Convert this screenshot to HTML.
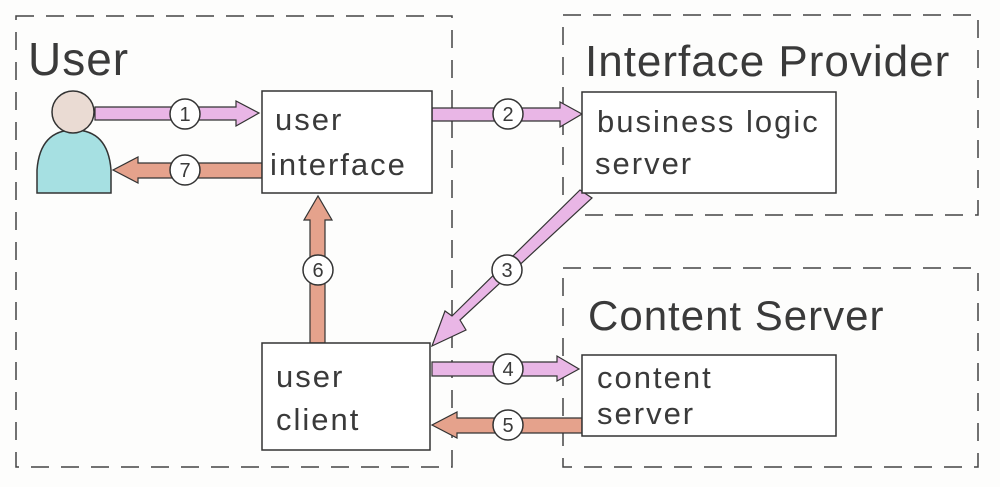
<!DOCTYPE html>
<html><head><style>body{margin:0;background:#fff}svg{display:block}text{font-family:"Liberation Sans",sans-serif;fill:#3a3a3a}</style></head><body>
<svg width="1000" height="487" viewBox="0 0 1000 487" xmlns="http://www.w3.org/2000/svg">
<rect width="1000" height="487" fill="#fdfdfc"/>
<g fill="none" stroke="#444" stroke-width="1.5" stroke-dasharray="18 12">
<rect x="16" y="16" width="436" height="451"/>
<rect x="563" y="15" width="415" height="200"/>
<rect x="563" y="268" width="415" height="199"/>
</g>
<text x="28" y="75" font-size="46" letter-spacing="1">User</text>
<text x="585" y="76" font-size="44" letter-spacing="1">Interface Provider</text>
<text x="588" y="330" font-size="42" letter-spacing="1">Content Server</text>
<!-- person -->
<path d="M37,193 L37,170 Q40,130 74,130 Q108,130 111,170 L111,193 Z" fill="#a6e0e2" stroke="#333" stroke-width="1.5"/>
<circle cx="73" cy="112" r="21" fill="#eadbd3" stroke="#333" stroke-width="1.5"/>
<g stroke="#333" stroke-width="1.2">
<path d="M95,107 H236 V101 L259,113 L236,126 V120 H95 Z" fill="#e9b6e6"/>
<path d="M262,163 H138 V157 L113,170 L138,183 V178 H262 Z" fill="#e5a28c"/>
<path d="M432,108 H560 V102 L582,114 L560,127 V121 H432 Z" fill="#e9b6e6"/>
<path d="M580,190 L592,198 L460,320 L466,330 L432,346 L445,311 L452,316 Z" fill="#e9b6e6"/>
<path d="M310,343 V220 H304 L318,196 L332,220 H325 V343 Z" fill="#e5a28c"/>
<path d="M432,362 H557 V356 L579,369 L557,381 V376 H432 Z" fill="#e9b6e6"/>
<path d="M582,418 H457 V412 L432,425 L457,438 V433 H582 Z" fill="#e5a28c"/>
</g>
<g fill="#fff" stroke="#333" stroke-width="1.5">
<rect x="262" y="91" width="170" height="102"/>
<rect x="582" y="92" width="254" height="101"/>
<rect x="262" y="343" width="168" height="107"/>
<rect x="582" y="355" width="254" height="81"/>
</g>
<g fill="#fff" stroke="#333" stroke-width="1.5">
<circle cx="185" cy="114" r="15"/><circle cx="185" cy="170" r="15"/>
<circle cx="508" cy="114" r="15"/><circle cx="507" cy="270" r="15"/>
<circle cx="318" cy="270" r="15"/><circle cx="508" cy="369" r="15"/>
<circle cx="508" cy="425" r="15"/>
</g>
<g font-size="20" text-anchor="middle">
<text x="185" y="121">1</text><text x="185" y="177">7</text>
<text x="508" y="121">2</text><text x="507" y="277">3</text>
<text x="318" y="277">6</text><text x="508" y="376">4</text>
<text x="508" y="432">5</text>
</g>
<g font-size="31" letter-spacing="2">
<text x="275" y="130">user</text><text x="270" y="175">interface</text>
<text x="597" y="132">business logic</text><text x="595" y="174">server</text>
<text x="276" y="387">user</text><text x="276" y="430">client</text>
<text x="597" y="388">content</text><text x="597" y="424">server</text>
</g>
</svg>
</body></html>
